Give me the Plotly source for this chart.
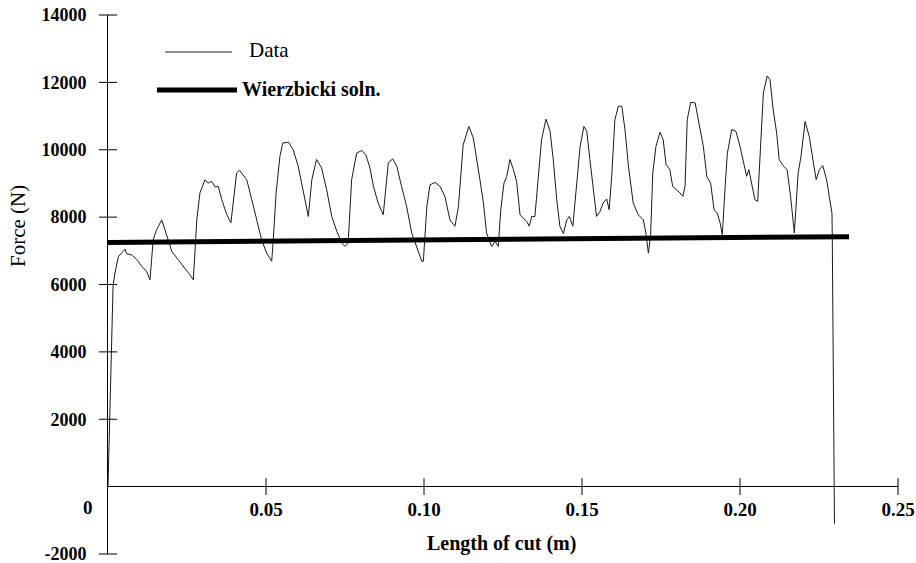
import plotly.graph_objects as go

# ---- data ----
length_m = [0, 0.0008, 0.0016, 0.0022, 0.0033, 0.0043, 0.0054, 0.0059, 0.0075, 0.0091, 0.0107, 0.0122,
            0.0133, 0.0138, 0.0143, 0.0154, 0.0170, 0.0180, 0.0191, 0.0202, 0.0222, 0.0244, 0.0259, 0.0270,
            0.0275, 0.0281, 0.0291, 0.0307, 0.0317, 0.0328, 0.0339, 0.0349, 0.0360, 0.0376, 0.0389, 0.0397,
            0.0407, 0.0416, 0.0428, 0.0439, 0.0455, 0.0471, 0.0486, 0.0502, 0.0518, 0.0523, 0.0532, 0.0544,
            0.0553, 0.0571, 0.0586, 0.0602, 0.0618, 0.0634, 0.0645, 0.0660, 0.0676, 0.0692, 0.0708, 0.0724,
            0.0740, 0.0750, 0.0760, 0.0771, 0.0787, 0.0803, 0.0816, 0.0829, 0.0840, 0.0855, 0.0871, 0.0887,
            0.0901, 0.0914, 0.0929, 0.0945, 0.0961, 0.0977, 0.0993, 0.0998, 0.1009, 0.1019, 0.1035, 0.1051,
            0.1066, 0.1082, 0.1098, 0.1109, 0.1124, 0.1142, 0.1156, 0.1177, 0.1188, 0.1198, 0.1207, 0.1214,
            0.1225, 0.1235, 0.1243, 0.1253, 0.1262, 0.1272, 0.1283, 0.1293, 0.1304, 0.1314, 0.1325, 0.1333,
            0.1341, 0.1351, 0.1362, 0.1372, 0.1386, 0.1399, 0.1409, 0.1420, 0.1430, 0.1441, 0.1452, 0.1460,
            0.1471, 0.1483, 0.1494, 0.1506, 0.1515, 0.1525, 0.1536, 0.1546, 0.1557, 0.1567, 0.1578, 0.1586,
            0.1594, 0.1604, 0.1615, 0.1626, 0.1636, 0.1647, 0.1662, 0.1678, 0.1694, 0.1703, 0.1710, 0.1717,
            0.1724, 0.1734, 0.1747, 0.1757, 0.1766, 0.1778, 0.1787, 0.1800, 0.1810, 0.1819, 0.1826, 0.1833,
            0.1844, 0.1858, 0.1873, 0.1884, 0.1895, 0.1907, 0.1918, 0.1928, 0.1937, 0.1944, 0.1953, 0.1960,
            0.1974, 0.1987, 0.2000, 0.2013, 0.2021, 0.2028, 0.2037, 0.2047, 0.2056, 0.2063, 0.2074, 0.2086,
            0.2095, 0.2105, 0.2116, 0.2124, 0.2136, 0.2149, 0.2160, 0.2172, 0.2184, 0.2193, 0.2206, 0.2219,
            0.2230, 0.2241, 0.2251, 0.2262, 0.2274, 0.2285, 0.2291, 0.2292, 0.2299]
force_n = [0, 2900, 5950, 6340, 6830, 6930, 7050, 6910, 6880, 6740, 6540, 6390,
           6140, 6740, 7330, 7630, 7920, 7630, 7330, 6980, 6740, 6490, 6290, 6140,
           7030, 7920, 8720, 9110, 9010, 9060, 8900, 8910, 8520, 8070, 7830, 8520,
           9310, 9390, 9230, 9110, 8520, 7920, 7330, 6930, 6690, 7330, 8720, 9800,
           10200, 10220, 10000, 9510, 8810, 8020, 9110, 9710, 9460, 8810, 8020, 7580,
           7230, 7130, 7230, 9110, 9900, 9980, 9850, 9460, 8910, 8420, 8070, 9610,
           9730, 9510, 8910, 8320, 7530, 7130, 6690, 6690, 8320, 8960, 9030, 8910,
           8620, 7920, 7730, 8320, 10150, 10690, 10350, 9110, 8420, 7530, 7280, 7130,
           7280, 7130, 8220, 9010, 9210, 9710, 9410, 9060, 8070, 7980, 7870, 7730,
           8020, 8020, 9210, 10300, 10910, 10550, 9710, 8520, 7730, 7510, 7920, 8020,
           7730, 9110, 10100, 10690, 10550, 9710, 8720, 8020, 8170, 8420, 8540, 8220,
           9210, 10890, 11290, 11290, 10600, 9510, 8420, 8070, 7920, 7480, 6930, 7430,
           9310, 10100, 10520, 10300, 9560, 9410, 8910, 8810, 8720, 8620, 8910, 10890,
           11410, 11390, 10600, 10100, 9210, 9010, 8220, 8120, 7830, 7480, 8910, 9900,
           10600, 10550, 10100, 9510, 9210, 9410, 9010, 8520, 8470, 9710, 11690, 12190,
           12080, 11190, 10500, 9710, 9530, 9410, 8620, 7530, 9310, 9800, 10840, 10400,
           9710, 9110, 9410, 9530, 9110, 8420, 8120, 7430, -1100]

wierz_x = [0, 0.2345]
wierz_y = [7250, 7420]

x_tick_vals = [0.05, 0.10, 0.15, 0.20, 0.25]
x_tick_text = ["0.05", "0.10", "0.15", "0.20", "0.25"]
y_tick_vals = [-2000, 2000, 4000, 6000, 8000, 10000, 12000, 14000]
y_tick_text = ["-2000", "2000", "4000", "6000", "8000", "10000", "12000", "14000"]

FONT = "Liberation Serif"
FS = 19


def b(s):
    return "<b>" + s + "</b>"


fig = go.Figure()
fig.add_trace(go.Scatter(x=length_m, y=force_n, mode="lines",
                         line=dict(color="#1a1a1a", width=1), name="Data", showlegend=False))
fig.add_trace(go.Scatter(x=wierz_x, y=wierz_y, mode="lines",
                         line=dict(color="#000000", width=5), name="Wierzbicki soln.", showlegend=False))
# crossing tick marks (centred on the axis lines), placed at the tick values
fig.add_trace(go.Scatter(x=x_tick_vals, y=[0] * len(x_tick_vals), mode="markers", cliponaxis=False,
                         marker=dict(symbol="line-ns", size=12, line=dict(color="black", width=1)),
                         showlegend=False, hoverinfo="skip"))
fig.add_trace(go.Scatter(x=[0] * len(y_tick_vals), y=y_tick_vals, mode="markers", cliponaxis=False,
                         marker=dict(symbol="line-ew", size=13, line=dict(color="black", width=1)),
                         showlegend=False, hoverinfo="skip"))

axis_common = dict(showgrid=False, automargin=False, ticklabeloverflow="allow",
                   tickcolor="rgba(0,0,0,0)")
fig.update_layout(
    template="none",
    width=916, height=563,
    margin=dict(l=108, r=18, t=15, b=9, pad=0),
    paper_bgcolor="white", plot_bgcolor="white",
    font=dict(family=FONT, size=FS, color="black"),
    xaxis=dict(range=[0, 0.25], anchor="free", position=0.125, showline=False, zeroline=False,
               ticks="outside", ticklen=6, tickvals=x_tick_vals,
               ticktext=[b(t) for t in x_tick_text], **axis_common),
    yaxis=dict(range=[-2000, 14000], showline=True, linecolor="black", linewidth=1,
               zeroline=True, zerolinecolor="black", zerolinewidth=1,
               ticks="outside", ticklen=17, tickvals=y_tick_vals,
               ticktext=[b(t) for t in y_tick_text], tickfont=dict(size=18), **axis_common),
)

# "0" label at origin (offset like the reference)
fig.add_annotation(x=0, y=0, xref="x", yref="y", text=b("0"), showarrow=False,
                   xanchor="center", yanchor="middle",
                   xshift=-20, yshift=-21, font=dict(family=FONT, size=FS))
# axis titles
fig.add_annotation(x=-0.1139, y=0.6085, xref="paper", yref="paper", text="Force (N)",
                   xanchor="center", yanchor="middle",
                   textangle=-90, showarrow=False, font=dict(family=FONT, size=FS + 2))
fig.add_annotation(x=0.4987, y=0.0186, xref="paper", yref="paper", text=b("Length of cut (m)"),
                   xanchor="center", yanchor="middle",
                   showarrow=False, font=dict(family=FONT, size=FS + 1))

# manual legend
fig.add_shape(type="line", xref="paper", yref="paper", x0=0.0722, x1=0.1570, y0=0.9314, y1=0.9314,
              line=dict(color="#1a1a1a", width=1))
fig.add_annotation(x=0.1759, y=0.9351, xref="paper", yref="paper", text="Data",
                   xanchor="left", yanchor="middle",
                   showarrow=False, font=dict(family=FONT, size=FS + 2))
fig.add_shape(type="line", xref="paper", yref="paper", x0=0.0620, x1=0.1633, y0=0.8609, y1=0.8609,
              line=dict(color="black", width=5))
fig.add_annotation(x=0.1671, y=0.8627, xref="paper", yref="paper", text=b("Wierzbicki soln."),
                   xanchor="left", yanchor="middle",
                   showarrow=False, font=dict(family=FONT, size=FS + 1))

# remove the browser's default 8px body margin so the figure sits at the window origin
fig.write_html("out.html", config={"displayModeBar": False},
               post_script="document.body.style.margin='0';")
